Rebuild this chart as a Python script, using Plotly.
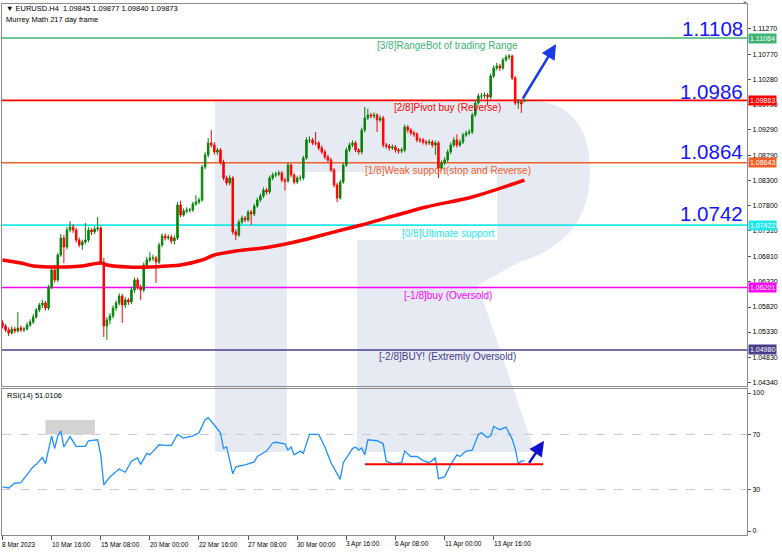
import plotly.graph_objects as go

# ---------------- data ----------------
bars = list(range(171))

opens = [1.05510,1.05448,1.05370,1.05311,1.05389,1.05350,1.05409,1.05370,1.05389,1.05468,
1.05526,1.05624,1.05761,1.05859,1.05898,1.05800,1.06211,1.06544,1.06348,1.06838,
1.07170,1.06994,1.07327,1.07386,1.07327,1.07131,1.07033,1.07092,1.07131,1.07327,
1.07288,1.07347,1.07366,1.06701,1.05448,1.05566,1.05644,1.05800,1.05898,1.06035,
1.05859,1.05957,1.05918,1.06153,1.06348,1.06211,1.06153,1.06642,1.06740,1.06779,
1.06779,1.06701,1.07033,1.07210,1.07170,1.07190,1.07112,1.07170,1.07816,1.07620,
1.07699,1.07718,1.07718,1.07836,1.07875,1.07914,1.08560,1.08795,1.09030,1.08990,
1.08853,1.08893,1.08658,1.08345,1.08247,1.08345,1.07288,1.07229,1.07484,1.07562,
1.07523,1.07679,1.07640,1.07797,1.07914,1.07992,1.08110,1.08071,1.08345,1.08403,
1.08423,1.08442,1.08305,1.08286,1.08599,1.08403,1.08266,1.08345,1.08345,1.08736,
1.09088,1.09088,1.09030,1.09030,1.08932,1.08853,1.08756,1.08697,1.08501,1.08208,
1.07953,1.08266,1.08599,1.08893,1.08990,1.09030,1.08893,1.08853,1.09284,1.09519,
1.09577,1.09558,1.09577,1.09480,1.09519,1.08990,1.08971,1.08932,1.08951,1.08893,
1.08873,1.08893,1.09343,1.09284,1.09225,1.09206,1.09088,1.09088,1.09049,1.09030,
1.09049,1.08990,1.09030,1.08540,1.08638,1.08697,1.08853,1.08990,1.09088,1.08990,
1.09049,1.09186,1.09225,1.09245,1.09577,1.09812,1.09949,1.09949,1.09969,1.09930,
1.10341,1.10497,1.10536,1.10497,1.10654,1.10713,1.10732,1.10302,1.09812,1.09832,
1.09845]

closes = [1.05448,1.05370,1.05311,1.05389,1.05350,1.05409,1.05370,1.05389,1.05468,1.05526,
1.05624,1.05761,1.05859,1.05898,1.05800,1.06211,1.06544,1.06348,1.06838,1.07170,
1.06994,1.07327,1.07386,1.07327,1.07131,1.07033,1.07092,1.07131,1.07327,1.07288,
1.07347,1.07366,1.06701,1.05448,1.05566,1.05644,1.05800,1.05898,1.06035,1.05859,
1.05957,1.05918,1.06153,1.06348,1.06211,1.06153,1.06642,1.06740,1.06779,1.06779,
1.06701,1.07033,1.07210,1.07170,1.07190,1.07112,1.07170,1.07816,1.07620,1.07699,
1.07718,1.07718,1.07836,1.07875,1.07914,1.08560,1.08795,1.09030,1.08990,1.08853,
1.08893,1.08658,1.08345,1.08247,1.08345,1.07288,1.07229,1.07484,1.07562,1.07523,
1.07679,1.07640,1.07797,1.07914,1.07992,1.08110,1.08071,1.08345,1.08403,1.08423,
1.08442,1.08305,1.08286,1.08599,1.08403,1.08266,1.08345,1.08345,1.08736,1.09088,
1.09088,1.09030,1.09030,1.08932,1.08853,1.08756,1.08697,1.08501,1.08208,1.07953,
1.08266,1.08599,1.08893,1.08990,1.09030,1.08893,1.08853,1.09284,1.09519,1.09577,
1.09558,1.09577,1.09480,1.09519,1.08990,1.08971,1.08932,1.08951,1.08893,1.08873,
1.08893,1.09343,1.09284,1.09225,1.09206,1.09088,1.09088,1.09049,1.09030,1.09049,
1.08990,1.09030,1.08540,1.08638,1.08697,1.08853,1.08990,1.09088,1.08990,1.09049,
1.09186,1.09225,1.09245,1.09577,1.09812,1.09949,1.09949,1.09969,1.09930,1.10341,
1.10497,1.10536,1.10497,1.10654,1.10713,1.10732,1.10302,1.09812,1.09832,1.09793,
1.09873]

highs = [1.05560,1.05490,1.05420,1.05440,1.05430,1.05720,1.05460,1.05430,1.05520,1.05580,
1.05680,1.05800,1.05900,1.05960,1.05940,1.06250,1.06600,1.06640,1.06880,1.07250,
1.07230,1.07390,1.07500,1.07440,1.07370,1.07180,1.07140,1.07464,1.07380,1.07360,
1.07400,1.07581,1.07400,1.06780,1.05620,1.05700,1.05850,1.05950,1.06090,1.06080,
1.06010,1.06000,1.06200,1.06400,1.06390,1.06260,1.06690,1.06800,1.06900,1.06840,
1.06820,1.07080,1.07260,1.07260,1.07240,1.07230,1.07220,1.07870,1.07900,1.07750,
1.07770,1.07760,1.07880,1.08010,1.07960,1.08600,1.08850,1.09130,1.09284,1.09050,
1.08940,1.08930,1.08700,1.08390,1.08400,1.08380,1.07340,1.07530,1.07610,1.07600,
1.07720,1.07720,1.07840,1.07960,1.08040,1.08160,1.08150,1.08390,1.08450,1.08470,
1.08490,1.08480,1.08350,1.08650,1.08630,1.08440,1.08390,1.08400,1.08780,1.09140,
1.09160,1.09130,1.09245,1.09070,1.08980,1.08900,1.08800,1.08740,1.08540,1.08250,
1.08310,1.08640,1.08940,1.09040,1.09080,1.09070,1.08930,1.09330,1.09734,1.09700,
1.09620,1.09630,1.09610,1.09570,1.09560,1.09030,1.09010,1.09000,1.08990,1.08930,
1.08940,1.09390,1.09380,1.09320,1.09270,1.09240,1.09140,1.09130,1.09090,1.09100,
1.09090,1.09080,1.09070,1.08690,1.08750,1.08900,1.09040,1.09140,1.09200,1.09100,
1.09230,1.09270,1.09300,1.09620,1.09860,1.10000,1.10010,1.10020,1.10010,1.10390,
1.10550,1.10600,1.10580,1.10700,1.10760,1.10771,1.10760,1.10340,1.09890,1.09880,
1.09877]

lows = [1.05400,1.05330,1.05250,1.05280,1.05310,1.05320,1.05330,1.05330,1.05360,1.05430,
1.05490,1.05590,1.05720,1.05800,1.05750,1.05760,1.06170,1.06300,1.06310,1.06800,
1.06681,1.06950,1.07280,1.07270,1.07080,1.06990,1.06936,1.07050,1.07090,1.07230,
1.07250,1.07300,1.06650,1.05233,1.05174,1.05480,1.05600,1.05740,1.05850,1.05507,
1.05800,1.05860,1.05880,1.06100,1.06160,1.05960,1.06110,1.06600,1.06700,1.06720,
1.06290,1.06660,1.06990,1.07120,1.07130,1.07060,1.07040,1.07130,1.07580,1.07590,
1.07650,1.07670,1.07680,1.07800,1.07830,1.07880,1.08520,1.08750,1.08940,1.08800,
1.08800,1.08610,1.08300,1.08200,1.08200,1.07240,1.07131,1.07190,1.07440,1.07480,
1.07490,1.07425,1.07600,1.07760,1.07870,1.07950,1.08020,1.08030,1.08300,1.08360,
1.08380,1.08260,1.08100,1.08250,1.08360,1.08220,1.08230,1.08290,1.08300,1.08700,
1.09030,1.08990,1.08980,1.08890,1.08810,1.08710,1.08650,1.08460,1.08160,1.07875,
1.07920,1.08230,1.08560,1.08850,1.08950,1.08850,1.08800,1.08810,1.09240,1.09480,
1.09510,1.09510,1.09245,1.09440,1.08940,1.08920,1.08880,1.08890,1.08840,1.08820,
1.08830,1.08850,1.09230,1.09180,1.09150,1.09040,1.09030,1.09000,1.08980,1.08990,
1.08940,1.08795,1.08345,1.08500,1.08600,1.08660,1.08810,1.08950,1.08940,1.08950,
1.09010,1.09150,1.09180,1.09210,1.09540,1.09780,1.09890,1.09900,1.09770,1.09890,
1.10300,1.10450,1.10440,1.10460,1.10620,1.10660,1.10260,1.09770,1.09700,1.09617,
1.09840]

# moving average (sampled along its smooth path)
ma_bars = [0, 6, 10, 16, 21, 26, 32, 34, 41, 48, 54, 58, 65, 69, 76, 87, 98, 103, 113, 117, 138, 153, 170]
ma_vals = [1.06740, 1.06681, 1.06622, 1.06603, 1.06603, 1.06622, 1.06681, 1.06642, 1.06603, 1.06603,
           1.06622, 1.06642, 1.06740, 1.06838, 1.06916, 1.06994, 1.07131, 1.07210, 1.07366, 1.07425,
           1.07777, 1.07973, 1.08305]

# RSI(14)
rsi_bars = [0,2,4,6,9,10,11,13,14,16,17,18,19,20,22,24,27,28,31,32,33,35,38,40,42,44,45,47,48,51,53,55,57,59,
            62,64,66,67,69,71,72,73,75,76,79,82,83,86,88,89,92,93,94,95,97,98,100,103,105,107,110,111,114,115,
            116,117,118,119,122,124,125,127,130,131,133,135,137,139,141,142,144,146,148,149,151,153,155,156,158,
            159,160,162,164,166,167,168,169,170]
rsi_vals = [31.9,31.2,34.6,35.1,43.7,46.5,48.3,53.3,48.8,68.9,59.7,68.9,72.3,60.9,68.4,61.3,61.3,65.4,66.1,55.2,
            33.5,39.2,44.9,42.6,50.6,52.9,48.3,56.3,55.2,62.5,62.0,62.0,70.0,67.3,68.9,71.1,80.7,82.1,76.8,71.1,
            59.7,60.9,41.5,46.5,47.9,50.1,54.0,57.9,63.8,64.3,63.2,58.6,60.9,55.2,57.9,56.3,70.0,70.0,60.9,49.5,
            37.4,49.5,59.7,60.9,58.6,60.2,55.2,66.1,65.4,63.2,50.6,48.8,49.5,57.9,54.0,54.0,51.0,49.5,52.9,38.0,
            39.2,48.3,55.2,54.0,57.9,58.6,70.0,71.1,67.7,68.9,75.7,73.4,75.3,66.6,59.7,48.8,50.6,51.0]

# Murrey Math levels
mm_levels = [1.11084, 1.09863, 1.08643, 1.07422, 1.06201, 1.04980]
mm_names = ["[3/8]RangeBot of trading Range", "[2/8]Pivot buy (Reverse)",
            "[1/8]Weak support(stop and Reverse)", "[0/8]Ultimate support",
            "[-1/8]buy (Oversold)", "[-2/8]BUY! (Extremly Oversold)"]
mm_colors = ["#3cb371", "#ff0000", "#f0602a", "#1de9e9", "#ff00ff", "#483d8b"]
big_labels = ["1.1108", "1.0986", "1.0864", "1.0742"]
big_label_y = [1.11270, 1.10047, 1.08873, 1.07650]
label_y = [1.10947, 1.09734, 1.08501, 1.07268, 1.06055, 1.04842]

price_ticks = [1.11270, 1.10770, 1.10280, 1.09790, 1.09290, 1.08790, 1.08300, 1.07800,
               1.07310, 1.06810, 1.06320, 1.05820, 1.05330, 1.04830, 1.04340]
time_tick_bars = [0, 16, 32, 48, 64, 80, 96, 112, 128, 144, 160]
time_tick_text = ["8 Mar 2023", "10 Mar 16:00", "15 Mar 08:00", "20 Mar 00:00", "22 Mar 16:00",
                  "27 Mar 08:00", "30 Mar 00:00", "3 Apr 16:00", "6 Apr 08:00", "11 Apr 00:00",
                  "13 Apr 16:00"]
header = "▼ EURUSD.H4  1.09845 1.09877 1.09840 1.09873"
subheader = "Murrey Math 217 day frame"
rsi_label = "RSI(14) 51.0106"

# ---------------- figure ----------------
W, H = 782, 552
ML, MR, MT, MB = 2, 35, 4, 17
PW, PH = W - ML - MR, H - MT - MB
FONT = "Liberation Sans, Arial, sans-serif"


def px(x):
    return (x - ML) / PW


def py(y):
    return (H - MB - y) / PH


def P(a, b):
    return f"{px(a):.4f},{py(b):.4f}"


fig = go.Figure()

fig.add_trace(go.Candlestick(
    x=bars, open=opens, high=highs, low=lows, close=closes,
    increasing=dict(line=dict(color="#0a820a", width=1), fillcolor="#0a820a"),
    decreasing=dict(line=dict(color="#ff0000", width=1), fillcolor="#ff0000"),
    whiskerwidth=0, hoverinfo="skip", showlegend=False, xaxis="x", yaxis="y"))

fig.add_trace(go.Scatter(x=ma_bars, y=ma_vals, mode="lines",
                         line=dict(color="#ff0000", width=3.5, shape="spline"),
                         hoverinfo="skip", showlegend=False, xaxis="x", yaxis="y"))

fig.add_trace(go.Scatter(x=rsi_bars, y=rsi_vals, mode="lines",
                         line=dict(color="#1e90ff", width=1.3),
                         hoverinfo="skip", showlegend=False, xaxis="x2", yaxis="y2"))

shapes = []
# watermark (RoboForex "R"): stem + rounded bowl + slanted leg
wm = "#e6ebf3"
path = ("M " + P(215, 100) + " L " + P(525, 100)
        + " Q " + P(590, 100) + " " + P(590, 172)
        + " Q " + P(590, 240) + " " + P(520, 262)
        + " L " + P(478, 285)
        + " L " + P(535, 452) + " L " + P(357, 452) + " L " + P(357, 240)
        + " L " + P(497, 240) + " L " + P(497, 172) + " L " + P(287, 172)
        + " L " + P(287, 452) + " L " + P(215, 452) + " Z")
shapes.append(dict(type="path", xref="paper", yref="paper", path=path,
                   fillcolor=wm, line=dict(width=0), layer="below"))

# Murrey lines
for lv, c in zip(mm_levels, mm_colors):
    shapes.append(dict(type="line", xref="paper", yref="y", x0=0, x1=1, y0=lv, y1=lv,
                       line=dict(color=c, width=1.6), layer="below"))
# RSI levels
for lv in (70, 30):
    shapes.append(dict(type="line", xref="paper", yref="y2", x0=0, x1=1, y0=lv, y1=lv,
                       line=dict(color="#c8c8c8", width=1, dash="dash"), layer="below"))
# RSI gray box
shapes.append(dict(type="rect", xref="x2", yref="y2", x0=14.0, x1=30.1, y0=70, y1=80.5,
                   fillcolor="#d3d3d3", line=dict(width=0), layer="below"))
# RSI support line
shapes.append(dict(type="line", xref="x2", yref="y2", x0=118.1, x1=176.1, y0=48.3, y1=48.3,
                   line=dict(color="#ff0000", width=2)))

annotations = []
annotations.append(dict(xref="paper", yref="paper", x=px(4), y=py(9), text=header, showarrow=False,
                        xanchor="left", yanchor="middle", font=dict(family=FONT, size=7.5, color="#000")))
annotations.append(dict(xref="paper", yref="paper", x=px(4), y=py(20), text=subheader, showarrow=False,
                        xanchor="left", yanchor="middle", font=dict(family=FONT, size=7.5, color="#000")))
annotations.append(dict(xref="paper", yref="paper", x=px(5), y=py(396), text=rsi_label, showarrow=False,
                        xanchor="left", yanchor="middle", font=dict(family=FONT, size=7.5, color="#000")))

for name, c, ly in zip(mm_names, mm_colors, label_y):
    annotations.append(dict(xref="x", yref="y", x=145.1, y=ly, text=name, showarrow=False,
                            xanchor="center", yanchor="middle",
                            font=dict(family=FONT, size=10, color=c)))
for t, yy in zip(big_labels, big_label_y):
    annotations.append(dict(xref="paper", yref="y", x=px(745), y=yy, text=t, showarrow=False,
                            xanchor="right", yanchor="middle",
                            font=dict(family=FONT, size=20.5, color="#1414ff")))
for lv, c in zip(mm_levels, mm_colors):
    annotations.append(dict(xref="paper", yref="y", x=1, y=lv, text=f"{lv:.5f}", showarrow=False,
                            xanchor="left", yanchor="middle", xshift=1, bgcolor=c, borderpad=1,
                            font=dict(family=FONT, size=7, color="#ffffff")))
for b, t in zip(time_tick_bars, time_tick_text):
    annotations.append(dict(xref="x2", yref="paper", x=b, y=py(544), text=t, showarrow=False,
                            xanchor="left", yanchor="middle", xshift=-2,
                            font=dict(family=FONT, size=6.5, color="#000")))
# arrows
annotations.append(dict(xref="x", yref="y", axref="x", ayref="y", x=180.3, y=1.10967, ax=169.2, ay=1.09871,
                        showarrow=True, arrowhead=2, arrowsize=1.2, arrowwidth=2.5, arrowcolor="#1a3ce6", text=""))
annotations.append(dict(xref="x2", yref="y2", axref="x2", ayref="y2", x=176.4, y=65.4, ax=171.2, ay=48.3,
                        showarrow=True, arrowhead=2, arrowsize=1.2, arrowwidth=2.5, arrowcolor="#1010d0", text=""))
# small triangle at top right
annotations.append(dict(xref="paper", yref="paper", x=px(745), y=py(3), text="▼", showarrow=False,
                        xanchor="center", yanchor="middle", font=dict(family=FONT, size=6, color="#888")))

axis_common = dict(showgrid=False, zeroline=False, showline=True, mirror=True,
                   linecolor="#8c8c8c", linewidth=1)
fig.update_layout(
    width=W, height=H, margin=dict(l=ML, r=MR, t=MT, b=MB),
    paper_bgcolor="#ffffff", plot_bgcolor="rgba(0,0,0,0)",
    showlegend=False, hovermode=False,
    xaxis=dict(domain=[0, 1], anchor="y", range=[-0.16, 242.5], showticklabels=False,
               rangeslider=dict(visible=False), ticks="", **axis_common),
    xaxis2=dict(domain=[0, 1], anchor="y2", range=[-0.16, 242.5], matches="x",
                tickvals=time_tick_bars, ticktext=[""] * len(time_tick_bars),
                ticks="outside", ticklen=4, tickcolor="#555", **axis_common),
    yaxis=dict(domain=[py(386), 1], anchor="x", side="right", range=[1.04274, 1.11750],
               tickvals=price_ticks, ticktext=[f"{v:.5f}" for v in price_ticks],
               ticks="outside", ticklen=3, tickcolor="#555",
               tickfont=dict(family=FONT, size=7, color="#000"), **axis_common),
    yaxis2=dict(domain=[0, py(389)], anchor="x2", side="right", range=[-2.9, 102.9],
                tickvals=[0, 30, 70, 100], ticktext=["0", "30", "70", "100"],
                ticks="outside", ticklen=3, tickcolor="#555",
                tickfont=dict(family=FONT, size=7, color="#000"), **axis_common),
    shapes=shapes, annotations=annotations,
)

fig.write_html("out.html", config={"displayModeBar": False},
               post_script="document.body.style.margin='0';document.body.style.overflow='hidden';")
